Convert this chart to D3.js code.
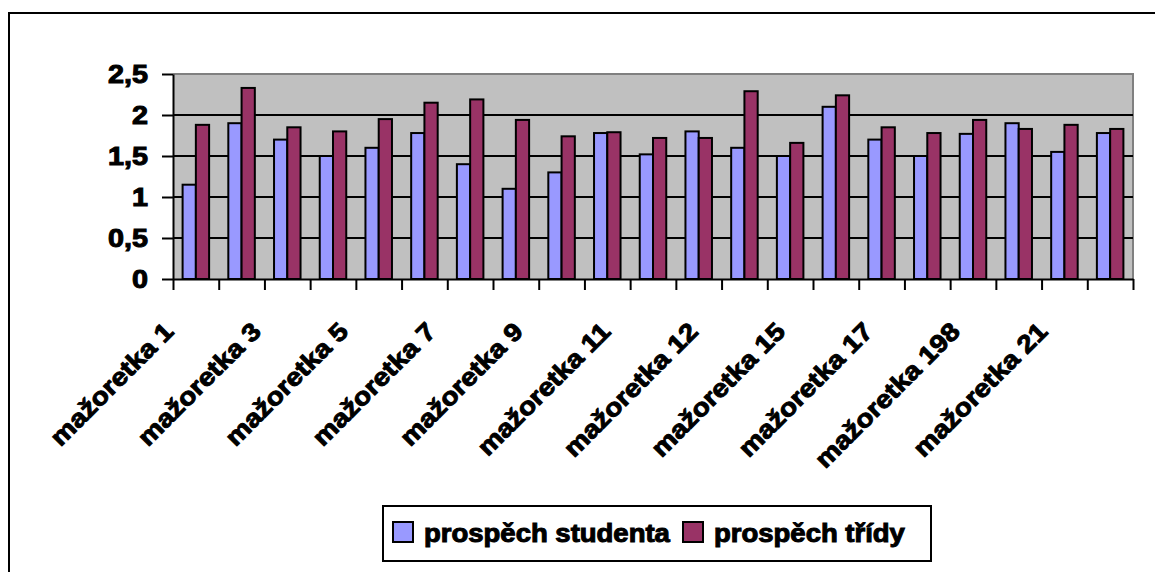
<!DOCTYPE html>
<html>
<head>
<meta charset="utf-8">
<script src="https://cdn.jsdelivr.net/npm/d3@7"></script>
<style>
  html, body { margin: 0; padding: 0; background: #fff; }
  svg { display: block; }
  text { font-family: "Liberation Sans", Arial, sans-serif; font-weight: bold; fill: #000; stroke: #000; stroke-width: 1px; }
</style>
</head>
<body>
<svg id="chart" width="1155" height="572"></svg>
<script>
// ---- data ----
const categories = [
  "mažoretka 1", "mažoretka 2", "mažoretka 3", "mažoretka 4", "mažoretka 5",
  "mažoretka 6", "mažoretka 7", "mažoretka 8", "mažoretka 9", "mažoretka 10",
  "mažoretka 11", "mažoretka 11b", "mažoretka 12", "mažoretka 14", "mažoretka 15",
  "mažoretka 16", "mažoretka 17", "mažoretka 18", "mažoretka 198", "mažoretka 20",
  "mažoretka 21"
];
const seriesNames = ["prospěch studenta", "prospěch třídy"];
const studentValues = [1.15, 1.9, 1.7, 1.5, 1.6, 1.78, 1.4, 1.1, 1.3, 1.78, 1.52, 1.8, 1.6, 1.5, 2.1, 1.7, 1.5, 1.77, 1.9, 1.55, 1.78];
const classValues   = [1.88, 2.33, 1.85, 1.8, 1.95, 2.15, 2.19, 1.94, 1.74, 1.79, 1.72, 1.72, 2.29, 1.66, 2.24, 1.85, 1.78, 1.94, 1.83, 1.88, 1.83];
const yTicks = [0, 0.5, 1, 1.5, 2, 2.5];
const labelStep = 2;
const colors = ["#9999FF", "#993366"];

// ---- layout ----
const svg = d3.select("#chart");
const plot = { left: 173, right: 1133, top: 74, bottom: 279 };
const SX = 1.12; // horizontal text stretch

// outer chart border
svg.append("rect").attr("x", 9).attr("y", 13).attr("width", 1160).attr("height", 580)
  .attr("fill", "#fff").attr("stroke", "#000").attr("stroke-width", 2);

const x0 = d3.scaleBand().domain(categories).range([plot.left, plot.right]).padding(0);
const bw = x0.bandwidth();
const x1 = d3.scaleBand().domain(seriesNames).range([bw * 0.21, bw * 0.79]).padding(0);
const y = d3.scaleLinear().domain([0, 2.5]).range([plot.bottom, plot.top]);

// plot background
svg.append("rect").attr("x", plot.left).attr("y", plot.top)
  .attr("width", plot.right - plot.left).attr("height", plot.bottom - plot.top)
  .attr("fill", "#C0C0C0");

// gray top/right border
svg.append("path")
  .attr("d", `M${plot.left},${plot.top}H${plot.right}V${plot.bottom}`)
  .attr("fill", "none").attr("stroke", "#808080").attr("stroke-width", 2);

// gridlines
svg.append("g").selectAll("line").data(yTicks.filter(d => d > 0 && d < 2.5)).join("line")
  .attr("x1", plot.left).attr("x2", plot.right)
  .attr("y1", d => y(d)).attr("y2", d => y(d))
  .attr("stroke", "#000").attr("stroke-width", 2);

// bars
const rows = categories.map((c, i) => ({ cat: c, vals: [studentValues[i], classValues[i]] }));
const groups = svg.append("g").selectAll("g").data(rows).join("g")
  .attr("transform", d => `translate(${x0(d.cat)},0)`);
groups.selectAll("rect").data(d => d.vals.map((v, k) => ({ name: seriesNames[k], v, k }))).join("rect")
  .attr("x", d => x1(d.name))
  .attr("width", x1.bandwidth())
  .attr("y", d => y(d.v))
  .attr("height", d => y(0) - y(d.v))
  .attr("fill", d => colors[d.k])
  .attr("stroke", "#000").attr("stroke-width", 2);

// y axis
const yAxis = d3.axisLeft(y).tickValues(yTicks).tickSizeInner(11).tickSizeOuter(0)
  .tickFormat(d => String(d).replace(".", ","));
const gy = svg.append("g").attr("transform", `translate(${plot.left},0)`).call(yAxis);
gy.select(".domain").attr("stroke", "#000").attr("stroke-width", 2);
gy.selectAll(".tick line").attr("stroke", "#000").attr("stroke-width", 2);
gy.selectAll(".tick text")
  .attr("x", 0).attr("dy", "0.35em")
  .attr("transform", `translate(-25,0) scale(1.15,1)`)
  .style("font-size", "25px").style("font-family", "'Liberation Sans', Arial, sans-serif")
  .style("font-weight", "bold").attr("fill", "#000");

// x axis (boundary ticks)
const xb = d3.scaleLinear().domain([0, categories.length]).range([plot.left, plot.right]);
const xAxis = d3.axisBottom(xb).tickValues(d3.range(0, categories.length + 1))
  .tickSizeInner(11).tickSizeOuter(0).tickFormat("");
const gx = svg.append("g").attr("transform", `translate(0,${plot.bottom})`).call(xAxis);
gx.select(".domain").attr("stroke", "#000").attr("stroke-width", 2);
gx.selectAll(".tick line").attr("stroke", "#000").attr("stroke-width", 2);

// x category labels (every other)
const shown = categories.filter((c, i) => i % labelStep === 0);
const xl = d3.scalePoint().domain(shown).range([175, 1049]);
svg.append("g").selectAll("text").data(shown).join("text")
  .attr("transform", d => `translate(${xl(d)},333) rotate(-45) scale(${SX},1)`)
  .attr("text-anchor", "end")
  .style("font-size", "25px")
  .text(d => d);

// legend
const lg = svg.append("g");
lg.append("rect").attr("x", 383).attr("y", 506).attr("width", 548).attr("height", 55)
  .attr("fill", "#fff").attr("stroke", "#000").attr("stroke-width", 2);
const legendX = d3.scaleOrdinal().domain(seriesNames).range([393, 683]);
const li = lg.selectAll("g.item").data(seriesNames).join("g").attr("class", "item")
  .attr("transform", d => `translate(${legendX(d)},0)`);
li.append("rect").attr("x", 0).attr("y", 522).attr("width", 20).attr("height", 20)
  .attr("fill", (d, i) => colors[i]).attr("stroke", "#000").attr("stroke-width", 2);
li.append("text")
  .attr("transform", `translate(31,542) scale(1.1,1)`)
  .style("font-size", "25px")
  .text(d => d);
</script>
</body>
</html>
